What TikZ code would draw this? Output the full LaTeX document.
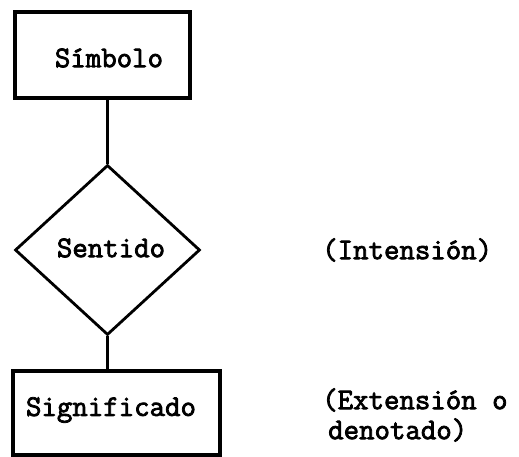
\documentclass[tikz,border=0pt]{standalone}
\usepackage{fontspec}
\newfontfamily\typewriter{Latin Modern Mono}[FakeBold=2.6]
\usetikzlibrary{shapes.geometric}
\begin{document}
\begin{tikzpicture}[x=1pt,y=1pt,
  every node/.style={font=\typewriter\fontsize{30}{34}\selectfont},
  frame/.style={draw, line width=3.2pt, inner sep=0pt},
  rhomb/.style={draw, diamond, line width=2.8pt, inner sep=0pt},
  link/.style={line width=3.2pt},
  note/.style={anchor=west, inner sep=0pt}]
  \useasboundingbox (0,0) rectangle (519,457);
  % the three levels of the semiotic triad
  \node[frame, minimum width=175pt, minimum height=86pt] (sym) at (102.5,402) {};
  \node (symtxt) at (109,399) {Símbolo};
  \node[rhomb, minimum width=185pt, minimum height=170pt] (sen) at (107.5,207) {};
  \node (sentxt) at (111,209) {Sentido};
  \node[frame, minimum width=207pt, minimum height=84pt] (sig) at (116.5,44) {};
  \node (sigtxt) at (111,47) {Significado};
  % connecting strokes
  \draw[link] (sen.north) -- (sen.north |- sym.south);
  \draw[link] (sen.south) -- (sen.south |- sig.north);
  % side notes
  \node[note] (int) at (322,207) {(Intensión)};
  \node[note] (ext) at (322,57) {(Extensión o};
  \node[note] (den) at (328,27) {denotado)};
\end{tikzpicture}
\end{document}
